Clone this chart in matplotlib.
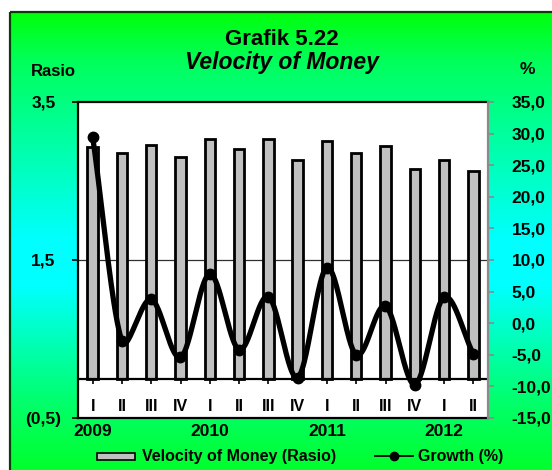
import numpy as np
import matplotlib
matplotlib.use("Agg")
import matplotlib.pyplot as plt
from matplotlib.patches import Rectangle
from matplotlib.lines import Line2D

plt.rcParams['font.family'] = ['Liberation Sans', 'DejaVu Sans']
plt.rcParams['font.weight'] = 'bold'

# ---------------- data ----------------
quarters = ["I", "II", "III", "IV", "I", "II", "III", "IV", "I", "II", "III", "IV", "I", "II"]
years = ["2009", "2010", "2011", "2012"]
velocity = [2.93, 2.86, 2.96, 2.81, 3.03, 2.91, 3.03, 2.77, 3.01, 2.86, 2.94, 2.65, 2.77, 2.63]
growth = [29.5, -2.8, 3.8, -5.4, 7.8, -4.2, 4.2, -8.6, 8.8, -5.0, 2.7, -9.7, 4.1, -4.9]
left_ticks = [-0.5, 1.5, 3.5]
left_labels = ["(0,5)", "1,5", "3,5"]
right_ticks = [-15, -10, -5, 0, 5, 10, 15, 20, 25, 30, 35]

W, H = 552, 470
fig = plt.figure(figsize=(W / 100, H / 100), dpi=100)
fig.patch.set_facecolor('white')

def fx(px):
    return px / W

def fy(py):
    return 1 - py / H

# ---------------- background frame with gradient ----------------
bg = fig.add_axes([0, 0, 1, 1], zorder=0)
bg.set_xlim(0, W)
bg.set_ylim(H, 0)
bg.axis('off')
ys = np.linspace(12, H + 5, 300)
stops_y = [12, 60, 240, 285, 400, H + 5]
stops_b = [10, 90, 255, 255, 110, 40]
blue = np.interp(ys, stops_y, stops_b) / 255.0
grad = np.zeros((len(ys), 1, 3))
grad[:, 0, 1] = 1.0
grad[:, 0, 2] = blue
bg.imshow(grad, extent=(10, W + 10, H + 5, 12), aspect='auto', interpolation='bilinear', zorder=0)
bg.add_patch(Rectangle((10, 12), W + 20, H + 20, fill=False, edgecolor='#0b3b0b', linewidth=1.6, zorder=1))

# titles
fig.text(fx(282), fy(39.5), "Grafik 5.22", ha='center', va='center', fontsize=16, fontweight='bold')
fig.text(fx(282), fy(63), "Velocity of Money", ha='center', va='center', fontsize=16.5,
         fontweight='bold', style='italic')
fig.text(fx(53), fy(72), "Rasio", ha='center', va='center', fontsize=12, fontweight='bold')
fig.text(fx(527), fy(69), "%", ha='center', va='center', fontsize=12.5, fontweight='bold')

# ---------------- main axes ----------------
L, R, T, B = 78, 488, 102, 418
ax = fig.add_axes([fx(L), fy(B), (R - L) / W, (B - T) / H], zorder=2)
ax.set_facecolor('white')
x = np.arange(len(velocity))
ax.set_xlim(-0.5, len(velocity) - 0.5)
ax.set_ylim(-0.5, 3.5)

ax.axhline(1.5, color='#303030', lw=0.9, zorder=1)
ax.bar(x, velocity, width=0.36, color='#c0c0c0', edgecolor='black', linewidth=2.0, zorder=2)
ax.axhline(0, color='black', lw=1.6, zorder=3)
ax.vlines(x, -0.065, 0, color='black', lw=1.2, zorder=3)

for i, q in enumerate(quarters):
    ax.text(i, -0.36, q, ha='center', va='center', fontsize=11.5, fontweight='bold')
for k, yr in enumerate(years):
    ax.text(4 * k, -0.665, yr, ha='center', va='center', fontsize=12.5, fontweight='bold',
            clip_on=False)

ax.set_xticks([])
ax.set_yticks(left_ticks)
ax.set_yticklabels(left_labels, fontsize=12.5, fontweight='bold')
ax.tick_params(axis='y', direction='out', length=4, width=1.2, color='black', pad=21)
for lab in ax.get_yticklabels():
    lab.set_horizontalalignment('center')
for s in ['left', 'bottom', 'top']:
    ax.spines[s].set_color('black')
    ax.spines[s].set_linewidth(1.6)
ax.spines['right'].set_visible(False)

ax2 = ax.twinx()
ax2.set_ylim(-15, 35)
ax2.set_yticks(right_ticks)
ax2.set_yticklabels([f"{v:.1f}".replace('.', ',') for v in right_ticks], fontsize=12.5, fontweight='bold')
ax2.tick_params(axis='y', direction='out', length=4, width=1.2, color='#8a8a8a', pad=13,
                labelcolor='black')
for s in ['left', 'bottom', 'top']:
    ax2.spines[s].set_visible(False)
ax2.spines['right'].set_color('#8a8a8a')
ax2.spines['right'].set_linewidth(1.6)

# smoothed growth line (Bezier through the data points, computed in display space)
pts = ax2.transData.transform(np.column_stack([x, growth]))
n = len(pts)
tan = []
for i in range(n):
    if i == 0:
        d = (pts[1] - pts[0]) / 3
    elif i == n - 1:
        d = (pts[-1] - pts[-2]) / 3
    else:
        d = (pts[i + 1] - pts[i - 1]) / 6
    tan.append(d)
curve = []
tt = np.linspace(0, 1, 50)
for i in range(n - 1):
    p0, p3 = pts[i], pts[i + 1]
    seg = np.linalg.norm(p3 - p0)
    t0, t1 = tan[i], tan[i + 1]
    if np.linalg.norm(t0) > seg / 3:
        t0 = t0 / np.linalg.norm(t0) * seg / 3
    if np.linalg.norm(t1) > seg / 3:
        t1 = t1 / np.linalg.norm(t1) * seg / 3
    p1 = p0 + t0
    p2 = p3 - t1
    b = ((1 - tt) ** 3)[:, None] * p0 + (3 * (1 - tt) ** 2 * tt)[:, None] * p1 + \
        (3 * (1 - tt) * tt ** 2)[:, None] * p2 + (tt ** 3)[:, None] * p3
    curve.append(b if i == 0 else b[1:])
curve = np.vstack(curve)
curve_data = ax2.transData.inverted().transform(curve)
ax2.plot(curve_data[:, 0], curve_data[:, 1], color='black', lw=3.8, solid_capstyle='round',
         solid_joinstyle='round', zorder=4)
ax2.plot(x, growth, 'o', color='black', ms=7.5, zorder=5)

# ---------------- legend ----------------
bg.add_patch(Rectangle((97, 452.5), 38, 7, facecolor='#c0c0c0', edgecolor='black', linewidth=1.2, zorder=3))
bg.text(141.5, 456.5, "Velocity of Money (Rasio)", ha='left', va='center', fontsize=11.5, fontweight='bold')
bg.add_line(Line2D([375, 413], [456, 456], color='black', lw=1.3, zorder=3))
bg.add_line(Line2D([394], [456], marker='o', color='black', ms=6, zorder=3))
bg.text(418, 456.5, "Growth (%)", ha='left', va='center', fontsize=11.5, fontweight='bold')

fig.savefig("out.png", dpi=100)
